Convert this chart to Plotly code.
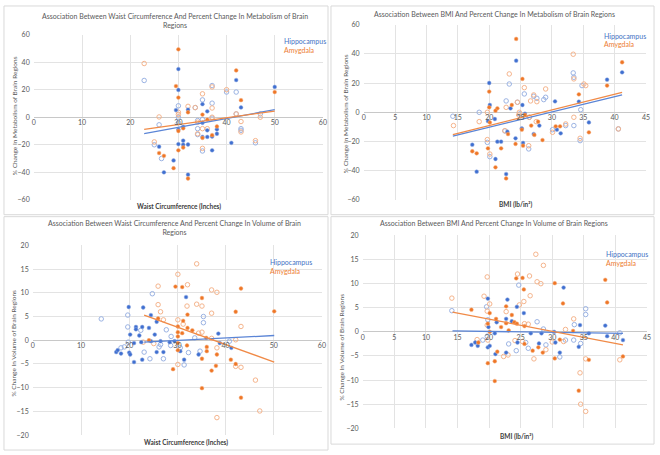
import plotly.graph_objects as go

# ---------------- DATA ----------------
# Panel 1: Waist circumference vs % change in metabolism
p1_hip_filled_x = [30, 42, 30, 50, 35, 32, 29.5, 36, 43, 31, 30, 35, 35, 36, 36, 38, 38, 37, 41, 26, 30, 31, 31, 32, 29, 27, 32, 37]
p1_hip_filled_y = [35, 27, 19.8, 22, 9.5, 5.5, 5.2, 4.3, 7.1, -7, -9, -4, -14.3, -9.5, -14.3, -8.8, -12, -14, -18.6, -21.4, -19.5, -17, -20, -19.8, -31.4, -40, -41.7, -24]
p1_hip_open_x = [22.9, 37, 40, 42, 35, 30, 37, 33.5, 42, 47, 26, 37, 30, 34, 34, 34, 35, 43, 43, 46, 25, 26.5, 35, 30]
p1_hip_open_y = [26.7, 23, 18.3, 18.3, 12.6, 8.3, 10.2, 7, 2.4, 2.4, -5.5, -0.7, 0, -2.4, -8.3, -12.6, -1.7, -8.3, -9.5, -18.6, -20, -30, -24.5, -4]
p1_amy_filled_x = [30, 42, 29.5, 30, 50, 43, 32, 35, 36, 30, 35, 38, 37, 26, 27, 30, 31, 29, 32, 31]
p1_amy_filled_y = [49.3, 34, 22.6, 14.3, 18.3, 12.4, 3.6, 1.9, -1.7, -10, -15, -6.7, -13, -26, -28, -24, -22, -37, -44.5, -8]
p1_amy_open_x = [22.9, 37, 40, 35, 32, 30, 33.5, 37, 42, 26, 47, 37, 34, 34, 35, 36, 43, 43, 46, 25, 35, 30]
p1_amy_open_y = [39, 22, 20, 17, 7.9, 3.6, 7, 6.7, 2.4, 0.2, 0, 0, -3.6, -12, -8.3, -8.3, -3.1, -10.7, -17, -17.9, -22.6, 2]
p1_hip_trend_x = [22.9, 50]
p1_hip_trend_y = [-11.9, 5.5]
p1_amy_trend_x = [22.9, 50]
p1_amy_trend_y = [-8.8, 4.5]

# Panel 2: BMI vs % change in metabolism
p2_hip_filled_x = [24.3, 41.2, 38.8, 20, 30.5, 34.3, 20.1, 23.4, 25.7, 20.9, 28, 25.2, 30.8, 31.4, 35.9, 22.9, 21.3, 21.9, 24.2, 25.4, 27.1, 19.8, 17.3, 18, 21, 22.7, 25.3]
p2_hip_filled_y = [35.4, 27.4, 22.4, 20.1, 7.5, 7.3, 5, 2.7, -1, -4.6, -9.1, -11, -11.9, -14.4, -6.9, -13.3, -20.1, -20.1, -17.8, -21, -14.9, -6, -22.2, -40.7, -32, -42.3, 5]
p2_hip_open_x = [33.4, 33.5, 23.2, 25.6, 34.8, 27.1, 29, 28.7, 27.6, 22.7, 24.5, 18.4, 14.2, 26.4, 30.1, 32.2, 33.5, 34.6, 34.5, 40.6, 22.5, 26.3, 19.7, 20.1, 24.9]
p2_hip_open_y = [27, 24, 19.4, 12.6, 18.3, 11, 10.3, 8.7, 9.6, 7.8, 6.9, 0, -2.7, -3.4, -11.9, -9.1, -9.1, 1.8, -19.4, -11.4, -12.8, -25.1, -20.6, -30.4, -1]
p2_amy_filled_x = [24.3, 41.2, 38.8, 20, 25.3, 34.3, 20, 21.3, 21, 23.6, 25.7, 20.1, 27.8, 26.7, 25.2, 30.6, 31.3, 35.9, 23, 21.9, 24.2, 25.4, 27.2, 28.5, 19.8, 17.3, 18, 21, 22.7]
p2_amy_filled_y = [50.3, 34.3, 18.3, 14.2, 22.9, 12.3, 3.4, 2.7, 1.1, 5, -1.8, -6.9, -6.4, -9.1, -11.9, -9.6, -9.6, -13.7, -14.9, -24.7, -21.7, -22.9, -15.5, -19, -24.7, -26.7, -28.1, -37.7, -45.3]
p2_amy_open_x = [33.4, 33.5, 23.2, 25.6, 35.1, 35.4, 27.1, 29, 27.6, 26.6, 22.7, 24.5, 19.7, 24.8, 24.7, 14.3, 18.4, 26.4, 30.1, 32.2, 33.5, 34.5, 40.6, 22.5, 26.3, 19.7, 20.1, 27.5]
p2_amy_open_y = [39.8, 22.9, 26.3, 16.9, 19.4, 18.3, 11.9, 16, 7.3, 7.8, 3.4, 6.9, 0, 0, -1.8, -9.1, -6.4, -3.4, -13.7, -8, -3.4, -17.8, -11.4, -12.6, -22.9, -18.7, -28.6, -6.4]
p2_hip_trend_x = [14.2, 41.2]
p2_hip_trend_y = [-16.3, 12.0]
p2_amy_trend_x = [14.2, 41.2]
p2_amy_trend_y = [-15.3, 13.6]

# Panel 3: Waist circumference vs % change in volume
p3_hip_filled_x = [31.8, 19.9, 22.9, 24.5, 25.7, 21.4, 21.4, 22.7, 24.1, 22.1, 20.2, 25.3, 38.5, 41.2, 38.8, 21, 22.5, 24.5, 26.5, 28.4, 29.4, 17.3, 17.6, 18.3, 20, 20.2, 22.7, 21, 25.7, 27.1, 30.6, 34.4, 31.4]
p3_hip_filled_y = [9.1, 7.0, 6.9, 5.3, 3.9, 2.8, 2.3, 2.8, 2.6, 1.0, 1.2, 1.2, 1.4, -1.6, -0.6, -0.6, -0.4, -0.2, -0.2, -0.4, -0.2, -2.5, -2.1, -2.8, -2.6, -3.0, -4.1, -4.6, -2.5, -2.5, -2.3, -3.0, -4.1]
p3_hip_open_x = [14.2, 24.8, 19.7, 35.4, 35.4, 19.7, 22.4, 27.7, 28.7, 33.6, 40.8, 19.8, 26.5, 28.6, 18.3, 19, 23.1, 24.3, 26.2, 27.1, 32.3, 30.6, 34.7, 31.4]
p3_hip_open_y = [4.5, 9.8, 5.3, 5.0, 3.7, 2.8, 2.1, 2.2, 0.8, 0.5, -0.2, -0.4, -0.9, -1.1, -1.6, -1.4, -2.5, -3.9, -1.4, -3.9, -2.6, -1.6, -2.3, -5.2]
p3_amy_filled_x = [29.6, 31, 43.2, 35.1, 32.1, 42.1, 50.1, 26, 31.2, 30.1, 32.1, 30.1, 31, 33.1, 30.1, 24.1, 36, 30.1, 32, 36.1, 36.1, 30.1, 29.1, 35.1, 38.2, 38.0, 41.1, 42.1, 37.1, 35.1, 43.2]
p3_amy_filled_y = [11.3, 11.2, 10.9, 8.9, 5.4, 6.0, 6.1, 4.6, 4.1, 2.9, 2.6, 1.7, 1.5, 2.1, 0.8, 0.0, 0.5, -0.6, -1.1, -1.4, -2.3, -2.1, -6.1, -3.9, -3.0, -5.4, -4.1, -5.0, -6.4, -10.1, -12.1]
p3_amy_open_x = [34, 30.1, 32.1, 26, 37.1, 38.2, 34, 35.1, 26, 26.5, 37.1, 32, 27.1, 30.1, 43.2, 31.2, 34.4, 35.1, 22.9, 25.1, 37.1, 42.1, 38.2, 30.1, 42.1, 43.2, 46.2, 47.1, 38.2]
p3_amy_open_y = [16.1, 13.9, 11.7, 11.4, 10.6, 10.1, 7.6, 7.2, 7.5, 6.0, 5.7, 7.2, 4.3, 4.3, 2.9, 3.4, 1.5, 1.7, -0.4, -0.7, 0.4, 0.1, -1.6, -5.1, -5.5, -5.7, -8.4, -14.9, -16.3]
p3_hip_trend_x = [23.1, 50.1]
p3_hip_trend_y = [-0.4, 1.0]
p3_amy_trend_x = [23.1, 50.1]
p3_amy_trend_y = [5.3, -4.6]

# Panel 4: BMI vs % change in volume
p4_hip_filled_x = [31.8, 19.8, 22.9, 24.4, 25.5, 21.2, 22.7, 23.6, 38.4, 34.4, 19.9, 20.9, 26.6, 28.3, 30.3, 35.8, 38.7, 41.2, 30.5, 17.2, 17.8, 18.2, 19.8, 20.1, 21, 22.7, 24.5, 27.9, 31.2, 34.2]
p4_hip_filled_y = [9.2, 6.9, 6.7, 5.2, 3.9, 2.0, 2.7, 2.2, 1.3, 1.4, 1.0, -0.3, -0.3, -0.3, 0.0, -0.3, -0.9, -1.7, -2.2, -2.7, -2.2, -2.9, -3.2, -2.9, -4.6, -4.3, -2.2, -2.4, -4.3, -3.1]
p4_hip_open_x = [24.7, 19.6, 35.3, 35.3, 14.1, 19.8, 33.5, 27.6, 28.6, 40.7, 33.4, 32.1, 19.7, 19, 23.1, 24.3, 25.8, 26.2, 29, 31.2, 34.5]
p4_hip_open_y = [9.7, 5.2, 4.8, 3.6, 4.4, 2.5, 1.5, 2.1, 0.6, -0.2, -1.7, -1.7, -0.9, -1.7, -2.5, -3.9, -2.2, -3.4, -2.7, -5.2, -2.4]
p4_amy_filled_x = [24.3, 25.3, 30.4, 38.4, 25.5, 31.7, 38.7, 17.2, 20.1, 22.7, 23.6, 21.1, 22.7, 24.0, 24.4, 19.8, 25.6, 23.1, 21.9, 20.1, 33.3, 31.2, 18.3, 25.6, 26.9, 28.5, 27.8, 21.3, 19.8, 20.9, 30.4, 35.8, 41.2, 34.2, 20.9]
p4_amy_filled_y = [11.1, 11.2, 10.1, 10.8, 8.8, 5.9, 6.1, 4.6, 3.9, 5.3, 3.5, 2.7, 1.8, 2.0, 1.7, 1.7, 1.2, 0.3, 1.0, 0.0, 0.2, -1.6, -2.2, -2.5, -3.9, -4.3, -3.2, -4.1, -6.5, -6.1, -5.5, -5.8, -5.1, -12.2, -10.2]
p4_amy_open_x = [27.4, 28.6, 19.7, 24.5, 26.4, 27.6, 28.2, 14.1, 19.2, 26.5, 20.1, 25.5, 24.8, 19.7, 22.7, 19.7, 25.6, 26.2, 33.4, 32.1, 31.8, 18.1, 19.8, 24.1, 25.3, 27.1, 29, 30.0, 22.3, 23, 35.3, 40.7, 34.4, 34.5, 35.3]
p4_amy_open_y = [16.1, 13.8, 11.4, 12.0, 11.6, 10.4, 10.0, 7.0, 7.4, 7.5, 5.8, 6.3, 5.6, 4.3, 4.2, 1.4, 1.7, 1.6, 2.7, 0.5, -2.0, -1.6, -1.7, -1.8, -2.0, -5.6, -3.7, -2.1, -5.1, -4.8, -5.6, -5.8, -8.5, -15.0, -16.5]
p4_hip_trend_x = [14.2, 41.2]
p4_hip_trend_y = [0.2, -0.3]
p4_amy_trend_x = [14.2, 41.2]
p4_amy_trend_y = [4.1, -2.7]

titles = [
    "Association Between Waist Circumference And Percent Change In Metabolism of Brain<br>Regions",
    "Association Between BMI And Percent Change In Metabolism of Brain Regions",
    "Association Between Waist Circumference And Percent Change In Volume of Brain<br>Regions",
    "Association Between BMI And Percent Change In Volume of Brain Regions",
]
x_titles = ["Waist Circumference (Inches)", "BMI (lb/in²)", "Waist Circumference (Inches)", "BMI (lb/in²)"]
y_titles = ["% Change In Metabolism of Brain Regions", "% Change In Metabolism of Brain Regions",
            "% Change In Volume of Brain Regions", "% Change In Volume of Brain Regions"]
legend_names = ["Hippocampus", "Amygdala"]

# ---------------- STYLE / LAYOUT ----------------
W, H = 660, 455
FONT = "Lato"
TXT = "#595959"
BLUE = "#3F6FD0"
BLUE_OPEN = "#9BB3E3"
ORANGE = "#EE7626"
ORANGE_OPEN = "#F5B48C"
GRID = "#E3E3E3"


def fx(px):
    return px / W


def fy(py):
    return 1 - py / H


panels = [
    dict(xd=(32, 324), yd=(199, 31), xr=(0, 60), yr=(-60, 60), dx=10, dy=20,
         box=(2, 2, 329, 214), title=(175, 17), xt=(179, 206), yt=(12, 113), leg=(283, 38, 47),
         data=(p1_hip_filled_x, p1_hip_filled_y, p1_hip_open_x, p1_hip_open_y,
               p1_amy_filled_x, p1_amy_filled_y, p1_amy_open_x, p1_amy_open_y,
               p1_hip_trend_x, p1_hip_trend_y, p1_amy_trend_x, p1_amy_trend_y)),
    dict(xd=(365, 650), yd=(199, 21), xr=(0, 45), yr=(-60, 60), dx=5, dy=20,
         box=(332, 2, 658, 214), title=(497, 10), xt=(518, 204), yt=(346, 111), leg=(605, 33, 41),
         data=(p2_hip_filled_x, p2_hip_filled_y, p2_hip_open_x, p2_hip_open_y,
               p2_amy_filled_x, p2_amy_filled_y, p2_amy_open_x, p2_amy_open_y,
               p2_hip_trend_x, p2_hip_trend_y, p2_amy_trend_x, p2_amy_trend_y)),
    dict(xd=(31, 323), yd=(438, 245), xr=(0, 60), yr=(-20, 20), dx=10, dy=5,
         box=(2, 216, 329, 453), title=(174, 227), xt=(186, 445), yt=(12, 344), leg=(268, 262, 271),
         data=(p3_hip_filled_x, p3_hip_filled_y, p3_hip_open_x, p3_hip_open_y,
               p3_amy_filled_x, p3_amy_filled_y, p3_amy_open_x, p3_amy_open_y,
               p3_hip_trend_x, p3_hip_trend_y, p3_amy_trend_x, p3_amy_trend_y)),
    dict(xd=(364, 651), yd=(431, 235), xr=(0, 45), yr=(-20, 20), dx=5, dy=5,
         box=(332, 216, 658, 447), title=(497, 222), xt=(519, 439), yt=(343, 348), leg=(608, 254, 263),
         data=(p4_hip_filled_x, p4_hip_filled_y, p4_hip_open_x, p4_hip_open_y,
               p4_amy_filled_x, p4_amy_filled_y, p4_amy_open_x, p4_amy_open_y,
               p4_hip_trend_x, p4_hip_trend_y, p4_amy_trend_x, p4_amy_trend_y)),
]

fig = go.Figure()
shapes = []
annotations = []
layout = {}

for i, p in enumerate(panels):
    n = "" if i == 0 else str(i + 1)
    xa, ya = "x" + n, "y" + n
    (hfx, hfy, hox, hoy, afx, afy, aox, aoy, htx, hty, atx, aty) = p["data"]
    # open markers
    fig.add_trace(go.Scatter(x=hox, y=hoy, xaxis=xa, yaxis=ya, mode="markers",
                             marker=dict(symbol="circle-open", size=4.5, color=BLUE_OPEN,
                                         line=dict(width=1.0)), showlegend=False, hoverinfo="skip"))
    fig.add_trace(go.Scatter(x=aox, y=aoy, xaxis=xa, yaxis=ya, mode="markers",
                             marker=dict(symbol="circle-open", size=4.5, color=ORANGE_OPEN,
                                         line=dict(width=1.0)), showlegend=False, hoverinfo="skip"))
    # filled markers
    fig.add_trace(go.Scatter(x=hfx, y=hfy, xaxis=xa, yaxis=ya, mode="markers",
                             marker=dict(symbol="circle", size=3.8, color=BLUE,
                                         line=dict(width=0.5, color="#8FA9E0")),
                             showlegend=False, hoverinfo="skip"))
    fig.add_trace(go.Scatter(x=afx, y=afy, xaxis=xa, yaxis=ya, mode="markers",
                             marker=dict(symbol="circle", size=3.8, color=ORANGE,
                                         line=dict(width=0.5, color="#F6B083")),
                             showlegend=False, hoverinfo="skip"))
    # trend lines
    fig.add_trace(go.Scatter(x=htx, y=hty, xaxis=xa, yaxis=ya, mode="lines",
                             line=dict(color="#5B85D6", width=1.3), showlegend=False, hoverinfo="skip"))
    fig.add_trace(go.Scatter(x=atx, y=aty, xaxis=xa, yaxis=ya, mode="lines",
                             line=dict(color="#F08A47", width=1.3), showlegend=False, hoverinfo="skip"))

    y0, y1 = p["yr"]
    zero_py = p["yd"][0] - (0 - y0) / (y1 - y0) * (p["yd"][0] - p["yd"][1])
    eps_x = (p["xr"][1] - p["xr"][0]) * 0.0005
    eps_y = (y1 - y0) * 0.0005
    layout["xaxis" + n] = dict(
        domain=[fx(p["xd"][0]), fx(p["xd"][1])], range=[p["xr"][0] - eps_x, p["xr"][1] + eps_x],
        anchor="free", position=fy(zero_py), dtick=p["dx"], tick0=0,
        showgrid=True, gridcolor=GRID, gridwidth=1, zeroline=False, showline=False,
        ticks="", tickfont=dict(family=FONT, size=7, color=TXT), fixedrange=True,
    )
    layout["yaxis" + n] = dict(
        domain=[fy(p["yd"][0]), fy(p["yd"][1])], range=[y0 - eps_y, y1 + eps_y],
        anchor=xa, dtick=p["dy"], tick0=0,
        showgrid=True, gridcolor=GRID, gridwidth=1, zeroline=True, zerolinecolor="#C8C8C8",
        zerolinewidth=1, showline=False, ticks="", ticklabelstandoff=3,
        tickfont=dict(family=FONT, size=7, color=TXT), fixedrange=True,
    )
    bx0, by0, bx1, by1 = p["box"]
    shapes.append(dict(type="rect", xref="paper", yref="paper", x0=fx(bx0), x1=fx(bx1),
                       y0=fy(by1), y1=fy(by0), line=dict(color="#D9D9D9", width=1),
                       fillcolor="rgba(0,0,0,0)", layer="below"))
    annotations.append(dict(text=titles[i], xref="paper", yref="paper", x=fx(p["title"][0]),
                            y=fy(p["title"][1]), showarrow=False, xanchor="center", yanchor="middle",
                            font=dict(family=FONT, size=7, color=TXT), align="center"))
    annotations.append(dict(text="<b>" + x_titles[i] + "</b>", xref="paper", yref="paper",
                            x=fx(p["xt"][0]), y=fy(p["xt"][1]), showarrow=False,
                            xanchor="center", yanchor="middle",
                            font=dict(family=FONT, size=6.5, color="#404040")))
    annotations.append(dict(text=y_titles[i], xref="paper", yref="paper", x=fx(p["yt"][0]),
                            y=fy(p["yt"][1]), showarrow=False, textangle=-90,
                            xanchor="center", yanchor="middle",
                            font=dict(family=FONT, size=6.5, color=TXT)))
    lx, ly1, ly2 = p["leg"]
    annotations.append(dict(text=legend_names[0], xref="paper", yref="paper", x=fx(lx), y=fy(ly1),
                            showarrow=False, xanchor="left", yanchor="middle",
                            font=dict(family=FONT, size=7, color="#4472C4")))
    annotations.append(dict(text=legend_names[1], xref="paper", yref="paper", x=fx(lx), y=fy(ly2),
                            showarrow=False, xanchor="left", yanchor="middle",
                            font=dict(family=FONT, size=7, color="#ED7D31")))

fig.update_layout(
    width=W, height=H, margin=dict(l=0, r=0, t=0, b=0),
    paper_bgcolor="white", plot_bgcolor="white",
    shapes=shapes, annotations=annotations, showlegend=False,
    font=dict(family=FONT, color=TXT),
    **layout,
)

fig.write_html("out.html", config={"displayModeBar": False})
